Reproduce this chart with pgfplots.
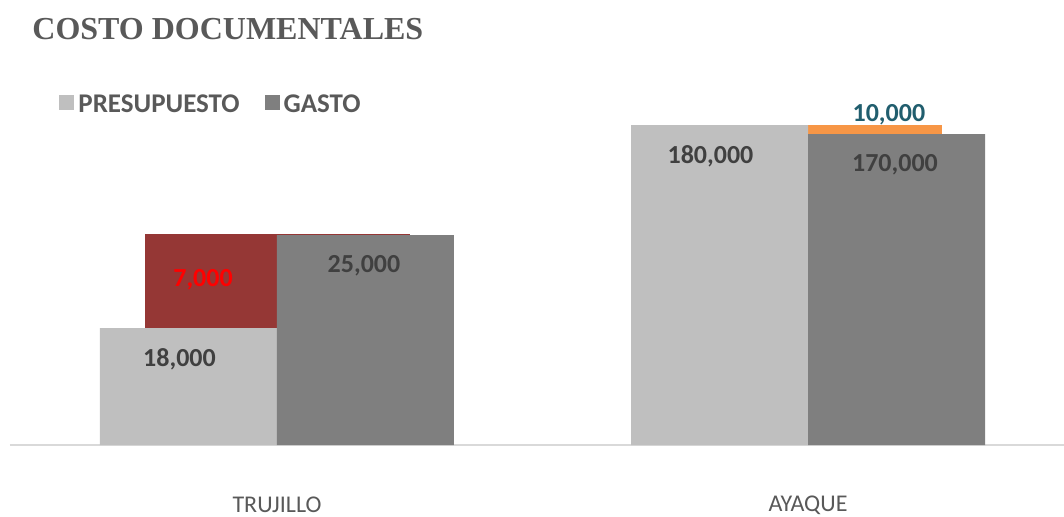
\documentclass[border=0pt]{standalone}
\usepackage{fontspec}
\setmainfont{Carlito}
\newfontfamily\titlefont{Liberation Serif}
\usepackage{pgfplots}
\pgfplotsset{compat=1.18}

\definecolor{presup}{HTML}{BFBFBF}
\definecolor{gasto}{HTML}{7F7F7F}
\definecolor{exceso}{HTML}{953735}
\definecolor{ahorro}{HTML}{F79646}
\definecolor{lbl}{HTML}{404040}
\definecolor{txtgray}{HTML}{595959}
\definecolor{teal}{HTML}{215E6E}
\definecolor{axgray}{HTML}{D9D9D9}

% heights are in drawn units (the chart is not to scale); labels carry the values
\begin{document}
\begin{tikzpicture}
\begin{axis}[
  scale only axis,
  width=527pt, height=182.5pt,
  xmin=-0.5028, xmax=1.4821,
  ymin=0, ymax=365,
  clip=false,
  axis y line=none,
  axis x line*=bottom,
  x axis line style={draw=axgray, line width=0.75pt},
  xtick={0,1},
  xticklabels={TRUJILLO,AYAQUE},
  major tick length=0pt,
  xticklabel style={anchor=center, yshift=-30pt, font=\fontsize{12}{14}\selectfont, text=txtgray},
  title={COSTO DOCUMENTALES},
  title style={at={(axis description cs:0,1)}, anchor=west, inner sep=0pt,
    xshift=11pt, yshift=19.5pt,
    font=\titlefont\bfseries\fontsize{16}{18}\selectfont, text=txtgray},
  legend style={at={(axis description cs:0,1)}, anchor=west, xshift=24.5pt, yshift=-12.75pt,
    draw=none, fill=none, inner sep=0pt, legend columns=2,
    font=\bfseries\fontsize{13.5}{15}\selectfont, text=txtgray,
    /tikz/every even column/.append style={column sep=10.5pt}},
  legend cell align=left,
  legend image code/.code={\fill[#1] (0pt,-2.3pt) rectangle (7.5pt,5.2pt);},
  nodes near coords,
  point meta=explicit symbolic,
]
% diferencia Trujillo (detras de la barra de gasto)
\addplot[ybar, forget plot, fill=exceso, draw=none, bar width=132.5pt, bar shift=0pt,
  every node near coord/.append style={anchor=center, xshift=-37.25pt, yshift=-23pt,
    font=\bfseries\fontsize{13}{15}\selectfont, text=red}]
  coordinates {(0.001,211) [{7,000}]};
% diferencia Ayaque
\addplot[ybar, forget plot, fill=ahorro, draw=none, bar width=67pt, bar shift=0pt,
  every node near coord/.append style={anchor=center, xshift=7pt, yshift=5pt,
    font=\bfseries\fontsize{13}{15}\selectfont, text=teal}]
  coordinates {(1.126,320) [{10,000}]};
% presupuesto
\addplot[ybar, fill=presup, draw=none, bar width=88.5pt, bar shift=-44.25pt,
  every node near coord/.append style={anchor=center, xshift=-48.75pt, yshift=-15.75pt,
    font=\bfseries\fontsize{13}{15}\selectfont, text=lbl}]
  coordinates {(0,117) [{18,000}] (1,320) [{180,000}]};
\addlegendentry{PRESUPUESTO}
% gasto
\addplot[ybar, fill=gasto, draw=none, bar width=88.5pt, bar shift=44.25pt,
  every node near coord/.append style={anchor=center, xshift=43.5pt, yshift=-15.5pt,
    font=\bfseries\fontsize{13}{15}\selectfont, text=lbl}]
  coordinates {(0,210) [{25,000}] (1,311) [{170,000}]};
\addlegendentry{GASTO}
\end{axis}
\pgfresetboundingbox
\path[use as bounding box] (-5pt,-35.5pt) rectangle (527pt,222.5pt);
\end{tikzpicture}
\end{document}
